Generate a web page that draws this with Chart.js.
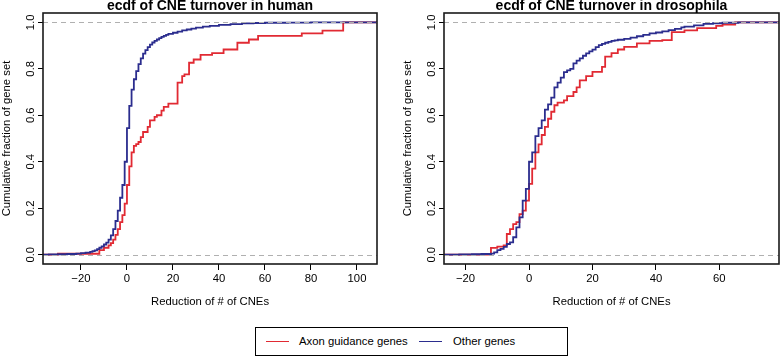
<!DOCTYPE html>
<html>
<head>
<meta charset="utf-8">
<script src="https://cdn.jsdelivr.net/npm/chart.js@4/dist/chart.umd.min.js"></script>
<style>
html,body{margin:0;padding:0;background:#fff;}
#wrap{position:relative;width:780px;height:356px;overflow:hidden;font-family:"Liberation Sans",Arial,Helvetica,sans-serif;}
canvas{position:absolute;top:0;}
#c1{left:0;}
#c2{left:390px;}
#legend{position:absolute;left:255px;top:327px;width:311px;height:27px;border:1px solid #000;background:#fff;font-size:11.3px;line-height:27px;color:#000;}
.lg-line{position:absolute;top:13px;width:23px;height:0;border-top:1.8px solid;}
.lg-text{position:absolute;top:0;white-space:nowrap;}
</style>
</head>
<body>
<div id="wrap">
  <canvas id="c1" width="390" height="356"></canvas>
  <canvas id="c2" width="390" height="356"></canvas>
  <div id="legend">
    <div class="lg-line" id="lgl1" style="left:10px;"></div>
    <div class="lg-text" id="lgt1" style="left:43px;"></div>
    <div class="lg-line" id="lgl2" style="left:163px;"></div>
    <div class="lg-text" id="lgt2" style="left:197px;"></div>
  </div>
</div>
<script>
// ---------- data ----------
const seriesNames = ['Axon guidance genes', 'Other genes'];
const panelTitles = ['ecdf of CNE turnover in human', 'ecdf of CNE turnover in drosophila'];
const xAxisTitle = 'Reduction of # of CNEs';
const yAxisTitle = 'Cumulative fraction of gene set';

const yTicks = [0, 0.2, 0.4, 0.6, 0.8, 1.0];
const xTicksHuman = [-20, 0, 20, 40, 60, 80, 100];
const xTicksDro = [-20, 0, 20, 40, 60];

// human: Axon guidance genes (ECDF jump locations and values after the jump)
const humanAxonX = [-30, -12, -10, -8, -7, -6, -5, -4, -3, -2, -1, 0, 1, 2, 3, 4, 5, 6, 7, 9, 10, 12, 13, 15, 16, 18, 22, 24, 25, 27, 29, 32, 37, 42, 48, 53, 57, 76, 85, 94];
const humanAxonF = [0.004, 0.02, 0.03, 0.04, 0.05, 0.065, 0.085, 0.11, 0.14, 0.17, 0.22, 0.30, 0.38, 0.44, 0.468, 0.476, 0.485, 0.506, 0.528, 0.55, 0.578, 0.593, 0.60, 0.62, 0.636, 0.65, 0.74, 0.768, 0.776, 0.826, 0.84, 0.86, 0.867, 0.883, 0.912, 0.926, 0.942, 0.952, 0.964, 1.0];

// human: Other genes
const humanOtherX = [-34, -30, -26, -22, -20, -18, -16, -15, -14, -13, -12, -11, -10, -9, -8, -7, -6, -5, -4, -3, -2, -1, 0, 1, 2, 3, 4, 5, 6, 7, 8, 9, 10, 11, 12, 13, 14, 15, 16, 17, 18, 20, 22, 24, 26, 28, 30, 33, 36, 40, 45, 50, 55, 60, 70, 80];
const humanOtherF = [0.001, 0.002, 0.003, 0.005, 0.007, 0.009, 0.012, 0.015, 0.019, 0.024, 0.03, 0.036, 0.044, 0.052, 0.065, 0.083, 0.11, 0.145, 0.19, 0.245, 0.30, 0.40, 0.545, 0.64, 0.71, 0.755, 0.79, 0.82, 0.845, 0.865, 0.88, 0.893, 0.904, 0.913, 0.92, 0.926, 0.932, 0.937, 0.942, 0.946, 0.95, 0.955, 0.96, 0.965, 0.969, 0.973, 0.977, 0.981, 0.985, 0.989, 0.992, 0.995, 0.997, 0.998, 0.999, 1.0];

// drosophila: Axon guidance genes
const droAxonX = [-12, -10, -8, -7, -6, -5, -4, -3, -2, -1, 0, 1, 2, 3, 4, 5, 6, 7, 8, 9, 11, 12, 14, 15, 16, 18, 20, 23, 24, 26, 28, 30, 34, 38, 42, 45, 49, 53, 59, 61, 65];
const droAxonF = [0.029, 0.035, 0.04, 0.089, 0.11, 0.132, 0.14, 0.175, 0.19, 0.233, 0.305, 0.37, 0.44, 0.475, 0.515, 0.55, 0.585, 0.615, 0.643, 0.654, 0.664, 0.682, 0.70, 0.72, 0.75, 0.768, 0.787, 0.808, 0.852, 0.867, 0.883, 0.894, 0.909, 0.92, 0.923, 0.958, 0.965, 0.975, 0.985, 0.99, 1.0];

// drosophila: Other genes
const droOtherX = [-22, -18, -15, -12, -11, -10, -9, -8, -7, -6, -5, -4, -3, -2, -1, 0, 1, 2, 3, 4, 5, 6, 7, 8, 9, 10, 11, 12, 13, 14, 15, 16, 17, 18, 19, 20, 21, 22, 23, 24, 25, 26, 27, 28, 30, 32, 34, 36, 38, 40, 42, 44, 46, 48, 49, 52, 55, 58, 61, 66];
const droOtherF = [0.001, 0.002, 0.003, 0.005, 0.01, 0.02, 0.025, 0.034, 0.046, 0.053, 0.075, 0.118, 0.161, 0.233, 0.283, 0.40, 0.44, 0.51, 0.545, 0.578, 0.624, 0.647, 0.676, 0.72, 0.74, 0.762, 0.786, 0.793, 0.80, 0.823, 0.835, 0.845, 0.856, 0.866, 0.875, 0.882, 0.893, 0.902, 0.907, 0.912, 0.916, 0.92, 0.922, 0.925, 0.929, 0.934, 0.94, 0.946, 0.952, 0.956, 0.961, 0.966, 0.972, 0.978, 0.981, 0.987, 0.993, 0.996, 0.998, 1.0];

// ---------- styles ----------
const RED = '#e12a33';
const BLUE = '#2b2d8e';
const FONT = '"Liberation Sans", Arial, Helvetica, sans-serif';
const FS = 11.3;

document.getElementById('lgl1').style.borderColor = RED;
document.getElementById('lgl2').style.borderColor = BLUE;
document.getElementById('lgt1').textContent = seriesNames[0];
document.getElementById('lgt2').textContent = seriesNames[1];

function buildPoints(xs, fs, xmin, xmax) {
  const pts = [{x: xmin, y: 0}];
  for (let i = 0; i < xs.length; i++) pts.push({x: xs[i], y: fs[i]});
  pts.push({x: xmax, y: 1});
  return pts;
}
function fmtX(v) { return v < 0 ? '\u2212' + Math.abs(v) : String(v); }

const decorPlugin = {
  id: 'decor',
  afterDatasetsDraw(chart) {
    const {ctx, chartArea: a, scales: {x, y}} = chart;
    const o = chart.options.plugins.decor;
    ctx.save();
    // reference lines at 0 and 1
    ctx.strokeStyle = '#b0b0b0';
    ctx.lineWidth = 1;
    ctx.setLineDash([5, 4]);
    [0, 1].forEach(v => {
      const py = Math.round(y.getPixelForValue(v)) + 0.5;
      ctx.beginPath(); ctx.moveTo(a.left, py); ctx.lineTo(a.right, py); ctx.stroke();
    });
    ctx.setLineDash([]);
    // box
    ctx.strokeStyle = '#1a1a1a';
    ctx.lineWidth = 1.6;
    ctx.strokeRect(a.left, a.top, a.right - a.left, a.bottom - a.top);
    // y tick labels (rotated)
    ctx.fillStyle = '#000';
    ctx.font = FS + 'px ' + FONT;
    ctx.textAlign = 'center';
    ctx.textBaseline = 'alphabetic';
    y.ticks.forEach(t => {
      const py = y.getPixelForValue(t.value);
      ctx.save();
      ctx.translate(a.left - 9, py);
      ctx.rotate(-Math.PI / 2);
      ctx.fillText(t.value.toFixed(1), 0, 0);
      ctx.restore();
    });
    // y axis title
    ctx.save();
    ctx.translate(a.left - 33, (a.top + a.bottom) / 2);
    ctx.rotate(-Math.PI / 2);
    ctx.fillText(yAxisTitle, 0, 0);
    ctx.restore();
    // x axis title
    ctx.fillText(xAxisTitle, (a.left + a.right) / 2, 305);
    // panel title
    ctx.font = 'bold 14px ' + FONT;
    ctx.fillText(o.title, (a.left + a.right) / 2, 10);
    ctx.restore();
  }
};

function makePanel(id, title, axonX, axonF, otherX, otherF, xmin, xmax, xTicks, yWidth, padRight) {
  return new Chart(document.getElementById(id), {
    type: 'line',
    data: {
      datasets: [
        {label: seriesNames[0], data: buildPoints(axonX, axonF, xmin, xmax), borderColor: RED, order: 1},
        {label: seriesNames[1], data: buildPoints(otherX, otherF, xmin, xmax), borderColor: BLUE, order: 0}
      ]
    },
    options: {
      responsive: false,
      animation: false,
      devicePixelRatio: 1,
      parsing: false,
      layout: {padding: {top: 13, right: padRight, left: 0, bottom: 0}},
      elements: {
        point: {radius: 0, hoverRadius: 0},
        line: {stepped: true, borderWidth: 1.8, tension: 0, fill: false}
      },
      plugins: {
        legend: {display: false},
        tooltip: {enabled: false},
        decor: {title: title}
      },
      events: [],
      scales: {
        x: {
          type: 'linear', min: xmin, max: xmax,
          afterBuildTicks: s => { s.ticks = xTicks.map(v => ({value: v})); },
          afterFit: s => { s.height = 92; },
          grid: {drawOnChartArea: false, drawTicks: true, tickLength: 6, color: '#000', lineWidth: 1},
          border: {display: false},
          ticks: {color: '#000', font: {family: FONT, size: FS}, padding: 2, maxRotation: 0, minRotation: 0, autoSkip: false, callback: v => fmtX(v)}
        },
        y: {
          type: 'linear', min: -0.04, max: 1.04,
          afterBuildTicks: s => { s.ticks = yTicks.map(v => ({value: v})); },
          afterFit: s => { s.width = yWidth; },
          grid: {drawOnChartArea: false, drawTicks: true, tickLength: 5, color: '#000', lineWidth: 1},
          border: {display: false},
          ticks: {display: false}
        }
      }
    },
    plugins: [decorPlugin]
  });
}

makePanel('c1', panelTitles[0], humanAxonX, humanAxonF, humanOtherX, humanOtherF, -36.5, 108.7, xTicksHuman, 43, 13);
makePanel('c2', panelTitles[1], droAxonX, droAxonF, droOtherX, droOtherF, -26.8, 78.8, xTicksDro, 54, 1);
</script>
</body>
</html>
